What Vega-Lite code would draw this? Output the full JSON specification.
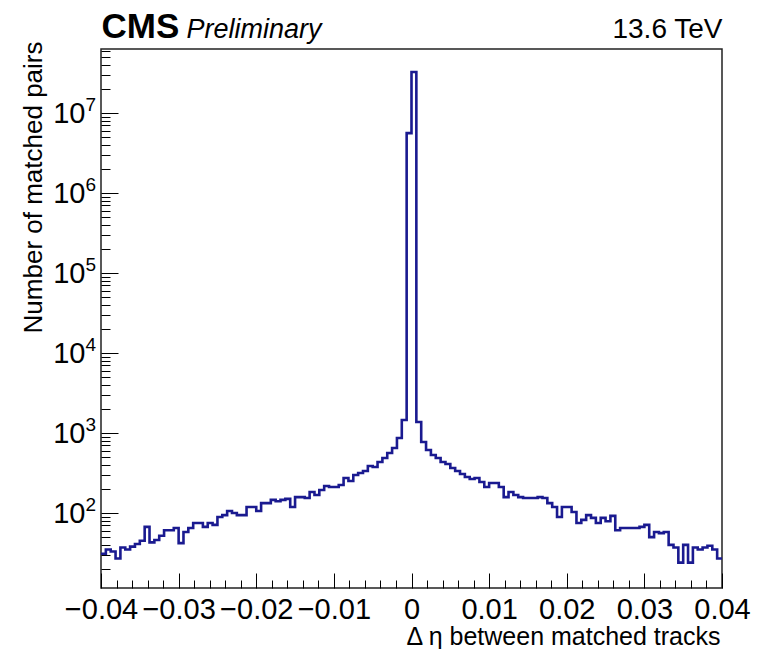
{
  "$schema": "https://vega.github.io/schema/vega-lite/v6.json",
  "width": 621,
  "height": 539,
  "autosize": {"type": "none"},
  "padding": {"left": 101, "top": 49, "right": 41, "bottom": 61},
  "background": "white",
  "config": {
    "view": {"stroke": "#222222", "strokeWidth": 1.5},
    "font": "Liberation Sans",
    "axis": {"grid": false, "tickColor": "black", "labelColor": "black", "titleColor": "black", "labelFont": "Liberation Sans", "titleFont": "Liberation Sans", "titleFontWeight": "normal", "labelFlush": false, "labelOverlap": false, "labelBound": false}
  },
  "data": {"values": [
    {"lo": -0.04, "n": 31}, {"lo": -0.039375, "n": 35}, {"lo": -0.03875, "n": 33}, {"lo": -0.038125, "n": 27}, {"lo": -0.0375, "n": 37},
    {"lo": -0.036875, "n": 35}, {"lo": -0.03625, "n": 38}, {"lo": -0.035625, "n": 41}, {"lo": -0.035, "n": 45}, {"lo": -0.034375, "n": 67},
    {"lo": -0.03375, "n": 43}, {"lo": -0.033125, "n": 46}, {"lo": -0.0325, "n": 52}, {"lo": -0.031875, "n": 61}, {"lo": -0.03125, "n": 61},
    {"lo": -0.030625, "n": 65}, {"lo": -0.03, "n": 42}, {"lo": -0.029375, "n": 58}, {"lo": -0.02875, "n": 65}, {"lo": -0.028125, "n": 75},
    {"lo": -0.0275, "n": 75}, {"lo": -0.026875, "n": 67}, {"lo": -0.02625, "n": 75}, {"lo": -0.025625, "n": 71}, {"lo": -0.025, "n": 89},
    {"lo": -0.024375, "n": 94}, {"lo": -0.02375, "n": 106}, {"lo": -0.023125, "n": 100}, {"lo": -0.0225, "n": 94}, {"lo": -0.021875, "n": 94},
    {"lo": -0.02125, "n": 119}, {"lo": -0.020625, "n": 119}, {"lo": -0.02, "n": 106}, {"lo": -0.019375, "n": 133}, {"lo": -0.01875, "n": 133},
    {"lo": -0.018125, "n": 146}, {"lo": -0.0175, "n": 140}, {"lo": -0.016875, "n": 146}, {"lo": -0.01625, "n": 150}, {"lo": -0.015625, "n": 119},
    {"lo": -0.015, "n": 158}, {"lo": -0.014375, "n": 158}, {"lo": -0.01375, "n": 154}, {"lo": -0.013125, "n": 183}, {"lo": -0.0125, "n": 168},
    {"lo": -0.011875, "n": 194}, {"lo": -0.01125, "n": 218}, {"lo": -0.010625, "n": 211}, {"lo": -0.01, "n": 211}, {"lo": -0.009375, "n": 224},
    {"lo": -0.00875, "n": 274}, {"lo": -0.008125, "n": 251}, {"lo": -0.0075, "n": 299}, {"lo": -0.006875, "n": 316}, {"lo": -0.00625, "n": 335},
    {"lo": -0.005625, "n": 387}, {"lo": -0.005, "n": 376}, {"lo": -0.004375, "n": 434}, {"lo": -0.00375, "n": 487}, {"lo": -0.003125, "n": 562},
    {"lo": -0.0025, "n": 649}, {"lo": -0.001875, "n": 866}, {"lo": -0.00125, "n": 1453}, {"lo": -0.000625, "n": 5600000}, {"lo": 0, "n": 32500000},
    {"lo": 0.000625, "n": 1373}, {"lo": 0.00125, "n": 772}, {"lo": 0.001875, "n": 613}, {"lo": 0.0025, "n": 531}, {"lo": 0.003125, "n": 487},
    {"lo": 0.00375, "n": 434}, {"lo": 0.004375, "n": 410}, {"lo": 0.005, "n": 365}, {"lo": 0.005625, "n": 335}, {"lo": 0.00625, "n": 307},
    {"lo": 0.006875, "n": 282}, {"lo": 0.0075, "n": 266}, {"lo": 0.008125, "n": 274}, {"lo": 0.00875, "n": 244}, {"lo": 0.009375, "n": 211},
    {"lo": 0.01, "n": 237}, {"lo": 0.010625, "n": 237}, {"lo": 0.01125, "n": 211}, {"lo": 0.011875, "n": 158}, {"lo": 0.0125, "n": 183},
    {"lo": 0.013125, "n": 168}, {"lo": 0.01375, "n": 158}, {"lo": 0.014375, "n": 154}, {"lo": 0.015, "n": 154}, {"lo": 0.015625, "n": 154},
    {"lo": 0.01625, "n": 158}, {"lo": 0.016875, "n": 154}, {"lo": 0.0175, "n": 133}, {"lo": 0.018125, "n": 119}, {"lo": 0.01875, "n": 89},
    {"lo": 0.019375, "n": 119}, {"lo": 0.02, "n": 119}, {"lo": 0.020625, "n": 103}, {"lo": 0.02125, "n": 75}, {"lo": 0.021875, "n": 82},
    {"lo": 0.0225, "n": 94}, {"lo": 0.023125, "n": 87}, {"lo": 0.02375, "n": 75}, {"lo": 0.024375, "n": 87}, {"lo": 0.025, "n": 79},
    {"lo": 0.025625, "n": 92}, {"lo": 0.02625, "n": 61}, {"lo": 0.026875, "n": 65}, {"lo": 0.0275, "n": 65}, {"lo": 0.028125, "n": 65},
    {"lo": 0.02875, "n": 65}, {"lo": 0.029375, "n": 67}, {"lo": 0.03, "n": 71}, {"lo": 0.030625, "n": 50}, {"lo": 0.03125, "n": 58},
    {"lo": 0.031875, "n": 56}, {"lo": 0.0325, "n": 58}, {"lo": 0.033125, "n": 40}, {"lo": 0.03375, "n": 37}, {"lo": 0.034375, "n": 24},
    {"lo": 0.035, "n": 40}, {"lo": 0.035625, "n": 24}, {"lo": 0.03625, "n": 37}, {"lo": 0.036875, "n": 35}, {"lo": 0.0375, "n": 37},
    {"lo": 0.038125, "n": 39}, {"lo": 0.03875, "n": 35}, {"lo": 0.039375, "n": 27}, {"lo": 0.04, "n": 27}
  ]},
  "layer": [
    {
      "mark": {"type": "line", "interpolate": "step-after", "stroke": "#1a1a90", "strokeWidth": 2.6},
      "encoding": {
        "x": {
          "field": "lo", "type": "quantitative",
          "scale": {"domain": [-0.04, 0.04], "nice": false, "zero": false},
          "axis": {
            "orient": "bottom",
            "values": [-0.04,-0.038,-0.036,-0.034,-0.032,-0.03,-0.028,-0.026,-0.024,-0.022,-0.02,-0.018,-0.016,-0.014,-0.012,-0.01,-0.008,-0.006,-0.004,-0.002,0,0.002,0.004,0.006,0.008,0.01,0.012,0.014,0.016,0.018,0.02,0.022,0.024,0.026,0.028,0.03,0.032,0.034,0.036,0.038,0.04],
            "labels": false,
            "domain": false,
            "tickSize": {"condition": {"test": "abs(datum.value*100 - round(datum.value*100)) < 0.001", "value": -15}, "value": -8},
            "tickWidth": 1,
            "title": "Δ η between matched tracks", "titleFontSize": 25,
            "titleAlign": "right", "titleBaseline": "alphabetic", "titleX": 619, "titleY": 56
          }
        },
        "y": {
          "field": "n", "type": "quantitative",
          "scale": {"type": "log", "domain": [11.55, 63100000], "nice": false},
          "axis": {
            "orient": "left",
            "values": [20,30,40,50,60,70,80,90,100,200,300,400,500,600,700,800,900,1000,2000,3000,4000,5000,6000,7000,8000,9000,10000,20000,30000,40000,50000,60000,70000,80000,90000,100000,200000,300000,400000,500000,600000,700000,800000,900000,1000000,2000000,3000000,4000000,5000000,6000000,7000000,8000000,9000000,10000000,20000000,30000000,40000000,50000000,60000000],
            "labels": false,
            "domain": false,
            "tickSize": {"condition": {"test": "abs(log(datum.value)/LN10 - round(log(datum.value)/LN10)) < 1e-6", "value": -17}, "value": -9},
            "tickWidth": 1,
            "title": "Number of matched pairs", "titleFontSize": 26, "titleAngle": -90,
            "titleAlign": "right", "titleBaseline": "alphabetic", "titleX": -60, "titleY": -8
          }
        }
      }
    },
    {
      "mark": {"type": "line", "strokeOpacity": 0},
      "encoding": {
        "x": {"field": "lo", "type": "quantitative",
          "axis": {"orient": "top", "domain": false, "ticks": false, "labels": false, "grid": false,
            "title": "CMS", "titleFontSize": 35, "titleFontWeight": "bold", "titleAlign": "left", "titleBaseline": "alphabetic", "titleX": 0, "titleY": -12}},
        "y": {"field": "n", "type": "quantitative",
          "axis": {"orient": "left", "domain": false, "ticks": false, "grid": false, "title": null,
            "values": [100,1000,10000,100000,1000000,10000000],
            "labelExpr": "'10'",
            "labelFontSize": 29, "labelAlign": "right", "labelBaseline": "middle", "labelPadding": 16}}
      }
    },
    {
      "mark": {"type": "line", "strokeOpacity": 0},
      "encoding": {
        "x": {"field": "lo", "type": "quantitative",
          "axis": {"orient": "top", "domain": false, "ticks": false, "labels": false, "grid": false,
            "title": "Preliminary", "titleFontSize": 27, "titleFontStyle": "italic", "titleAlign": "left", "titleBaseline": "alphabetic", "titleX": 85, "titleY": -12}},
        "y": {"field": "n", "type": "quantitative",
          "axis": {"orient": "right", "domain": false, "ticks": false, "labels": false, "grid": false,
            "title": "13.6 TeV", "titleFontSize": 28, "titleAngle": 0, "titleAlign": "right", "titleBaseline": "alphabetic", "titleX": 0, "titleY": -12}}
      }
    },
    {
      "mark": {"type": "line", "strokeOpacity": 0},
      "encoding": {
        "x": {"field": "lo", "type": "quantitative",
          "axis": {"orient": "bottom", "domain": false, "ticks": false, "grid": false, "title": null,
            "values": [-0.04,-0.03,-0.02,-0.01,0,0.01,0.02,0.03,0.04],
            "labelExpr": "abs(datum.value) < 1e-9 ? '0' : format(datum.value, '.2f')",
            "labelFontSize": 29, "labelBaseline": "top", "labelPadding": 7}},
        "y": {"field": "n", "type": "quantitative",
          "axis": {"orient": "left", "domain": false, "ticks": false, "grid": false, "title": null,
            "values": [100,1000,10000,100000,1000000,10000000],
            "labelExpr": "format(round(log(datum.value)/LN10), 'd')",
            "labelFontSize": 19, "labelAlign": "left", "labelBaseline": "middle", "labelPadding": 16, "labelOffset": -9}}
      }
    }
  ],
  "resolve": {"axis": {"x": "independent", "y": "independent"}}
}
